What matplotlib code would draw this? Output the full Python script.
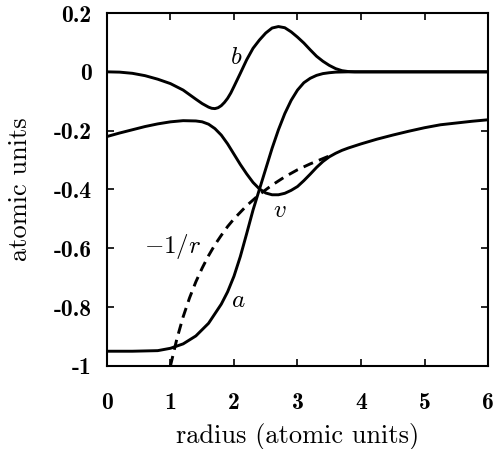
import numpy as np
import matplotlib
matplotlib.use("Agg")
import matplotlib.pyplot as plt

plt.rcParams['mathtext.fontset'] = 'cm'
plt.rcParams['axes.unicode_minus'] = False

# curve a
r_a = [0, 0.4, 0.8, 1.0, 1.2, 1.4, 1.6, 1.8, 1.9, 2.0, 2.1, 2.2, 2.3, 2.4,
       2.5, 2.6, 2.7, 2.8, 2.9, 3.0, 3.1, 3.2, 3.3, 3.4, 3.5, 3.6, 3.8, 6.0]
val_a = [-0.95, -0.95, -0.948, -0.94, -0.925, -0.898, -0.855, -0.79, -0.748,
         -0.695, -0.628, -0.55, -0.47, -0.40, -0.33, -0.26, -0.197, -0.142,
         -0.097, -0.062, -0.037, -0.022, -0.012, -0.006, -0.003, -0.001,
         0.0, 0.0]

# curve b
r_b = [0, 0.2, 0.4, 0.6, 0.8, 1.0, 1.2, 1.4, 1.5, 1.6, 1.65, 1.7, 1.75, 1.8,
       1.85, 1.9, 1.95, 2.0, 2.1, 2.2, 2.3, 2.4, 2.5, 2.6, 2.7, 2.8, 2.9,
       3.0, 3.1, 3.2, 3.3, 3.4, 3.5, 3.6, 3.7, 3.8, 3.9, 6.0]
val_b = [0.0, -0.001, -0.005, -0.013, -0.025, -0.04, -0.062, -0.093, -0.108,
         -0.12, -0.124, -0.125, -0.122, -0.115, -0.104, -0.09, -0.072, -0.05,
         -0.005, 0.041, 0.08, 0.108, 0.132, 0.149, 0.154, 0.15, 0.136, 0.118,
         0.098, 0.075, 0.053, 0.036, 0.022, 0.011, 0.004, 0.001, 0.0, 0.0]

# potential v
r_v = [0, 0.2, 0.4, 0.6, 0.8, 1.0, 1.2, 1.4, 1.5, 1.6, 1.7, 1.8, 1.9, 2.0,
       2.1, 2.2, 2.3, 2.4, 2.5, 2.6, 2.7, 2.8, 2.9, 3.0, 3.1, 3.2, 3.3, 3.4,
       3.5, 3.6, 3.7, 3.8, 4.0, 4.25, 4.5, 4.75, 5.0, 5.25, 5.5, 5.75, 6.0]
val_v = [-0.22, -0.208, -0.197, -0.186, -0.177, -0.17, -0.166, -0.167, -0.17,
         -0.178, -0.193, -0.215, -0.245, -0.28, -0.315, -0.347, -0.376,
         -0.398, -0.412, -0.418, -0.418, -0.413, -0.403, -0.39, -0.37,
         -0.348, -0.325, -0.305, -0.289, -0.277, -0.267, -0.259, -0.245,
         -0.229, -0.215, -0.202, -0.19, -0.18, -0.174, -0.168, -0.163]

# dashed -1/r
r_c = [1.0, 1.1, 1.2, 1.3, 1.4, 1.5, 1.6, 1.7, 1.8, 1.9, 2.0, 2.2, 2.4, 2.6,
       2.8, 3.0, 3.2, 3.5]
val_c = [-1.0, -0.909, -0.833, -0.769, -0.714, -0.667, -0.625, -0.588,
         -0.556, -0.526, -0.5, -0.455, -0.417, -0.385, -0.357, -0.333,
         -0.313, -0.286]

xticks = [0, 1, 2, 3, 4, 5, 6]
yticks = [0.2, 0, -0.2, -0.4, -0.6, -0.8, -1]
ytick_labels = ['0.2', '0', '-0.2', '-0.4', '-0.6', '-0.8', '-1']

fig = plt.figure(figsize=(4.95, 4.49), dpi=100)
ax = fig.add_axes([0.216, 0.185, 0.770, 0.786])

lw = 2.1
ax.plot(r_a, val_a, color='black', lw=lw)
ax.plot(r_b, val_b, color='black', lw=lw)
ax.plot(r_v, val_v, color='black', lw=lw)
ax.plot(r_c, val_c, color='black', lw=lw, dashes=(3.5, 2.2))

ax.text(2.04, 0.05, '$b$', fontsize=18, ha='center', va='center')
ax.text(2.07, -0.775, '$a$', fontsize=18, ha='center', va='center')
ax.text(2.72, -0.47, '$v$', fontsize=18, ha='center', va='center')
ax.text(1.04, -0.594, '$-1/r$', fontsize=18, ha='center', va='center')

ax.set_xlim(0, 6)
ax.set_ylim(-1, 0.2)
ax.set_xticks(xticks)
ax.set_xticklabels([str(t) for t in xticks], family='cmb10', fontsize=17)
ax.set_yticks(yticks)
ax.set_yticklabels(ytick_labels, family='cmb10', fontsize=17)
ax.tick_params(direction='in', length=5, width=1.2, top=True, right=True)
ax.tick_params(axis='x', pad=19)
ax.tick_params(axis='y', pad=11)
for s in ax.spines.values():
    s.set_linewidth(1.5)

ax.set_xlabel('radius (atomic units)', family='cmr10', fontsize=19)
ax.set_ylabel('atomic units', family='cmr10', fontsize=19)
ax.xaxis.set_label_coords(0.5, -0.201)
ax.yaxis.set_label_coords(-0.228, 0.5)
ax.xaxis.label.set_va('center')
ax.yaxis.label.set_va('center')

fig.savefig('out.png', dpi=100)
